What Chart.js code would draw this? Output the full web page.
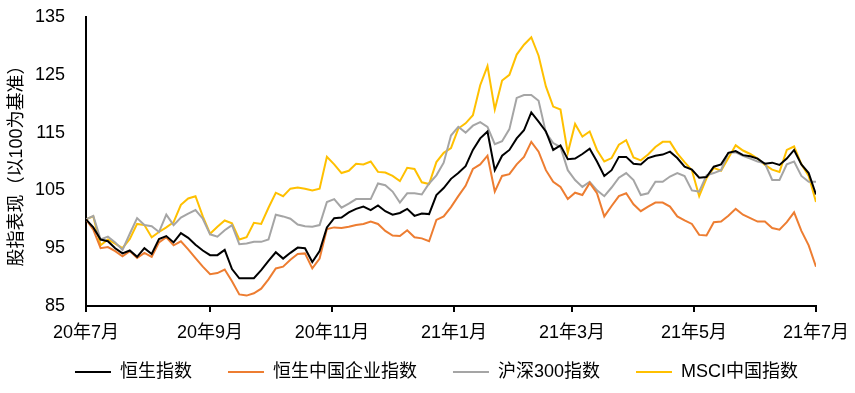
<!DOCTYPE html>
<html>
<head>
<meta charset="utf-8">
<script src="https://cdn.jsdelivr.net/npm/chart.js@4"></script>
<style>
  body { margin: 0; background: #fff; }
  #wrap { width: 855px; height: 393px; }
</style>
</head>
<body>
<div id="wrap"><canvas id="indexChart" width="855" height="393"></canvas></div>
<script>
// series names (legend order)
const seriesNames = ["恒生指数", "恒生中国企业指数", "沪深300指数", "MSCI中国指数"];

// x axis: month labels and their offset in days from 2020-07-01
const monthLabels = ["20年7月", "20年9月", "20年11月", "21年1月", "21年3月", "21年5月", "21年7月"];
const monthDays = [0, 62, 123, 184, 243, 304, 365];

// y axis range
const yMin = 85, yMax = 135, yStep = 10;

// index values, read roughly every 3.65 days from 2020-07-01 to 2021-07-01
const hsi = [
  100, 98.6, 96.5, 96.2, 95, 94.1, 94.6, 93.5, 95, 94, 96.6,
  97.1, 96, 97.6, 96.8, 95.6, 94.6, 93.8, 93.8, 94.7, 91.4,
  89.8, 89.8, 89.8, 91.2, 92.8, 94.3, 93.2, 94.2, 95.1, 95,
  92.6, 94.5, 98.6, 100.2, 100.3, 101.2, 101.8, 102.2, 101.6, 102.4,
  101.4, 100.8, 101.1, 101.8, 100.6, 101, 100.9, 104.2, 105.4, 107,
  108, 109.2, 112, 114, 115.2, 108.5, 111, 112, 114, 115.4,
  118.5, 116.9, 115.2, 112, 112.8, 110.4, 110.5, 111.3, 112.2, 110,
  107.5, 108.5, 110.8, 110.8, 109.6, 109.5, 110.6, 111, 111.2, 111.7,
  110.6, 109.1, 108.6, 107.2, 107.3, 109.1, 109.5, 111.5, 111.8, 111.1,
  110.9, 110.5, 109.6, 109.8, 109.4, 110.5, 112, 109.5, 108, 104.3
];
const hscei = [
  100, 98.2, 95, 95.2, 94.5, 93.6, 94.5, 93.3, 94.2, 93.5, 96,
  96.9, 95.5, 96.2, 94.8, 93.3, 91.8, 90.5, 90.7, 91.3, 89.3,
  87, 86.8, 87.2, 88, 89.6, 91.5, 91.8, 93, 94, 94.1,
  91.5, 93.2, 98.3, 98.6, 98.5, 98.7, 99, 99.2, 99.6, 99.2,
  98, 97.2, 97.1, 98.1, 96.9, 96.7, 96.2, 99.9, 100.5, 102.1,
  104, 105.8, 108.7, 109.5, 111, 104.8, 107.5, 107.8, 109.5, 110.8,
  113.4, 111.7, 108.5, 106.5, 105.6, 103.5, 104.6, 104.2, 106.3, 104.5,
  100.5, 102.3, 104, 104.5, 102.6, 101.4, 102.2, 102.9, 102.9, 102.2,
  100.5, 99.8, 99.2, 97.3, 97.2, 99.5, 99.6, 100.6, 101.8, 100.8,
  100.2, 99.6, 99.6, 98.5, 98.2, 99.5, 101.2, 98, 95.5, 91.8
];
const csi300 = [
  100, 100.6, 96.5, 97, 96, 94.7, 97.5, 100.2, 99, 98.8, 97.8,
  100.8, 99, 100.3, 101, 101.6, 100.1, 97.4, 97, 98.1, 99,
  95.7, 95.8, 96.1, 96.1, 96.5, 100.8, 100.5, 100.1, 99.1, 98.8,
  98.7, 99, 103, 103.5, 102, 102.7, 103.5, 103.5, 103.5, 106.2,
  105.9, 104.8, 102.9, 104.5, 104.5, 104.3, 106.2, 107.6, 109.8, 114.5,
  116, 115, 116.2, 116.8, 116, 113, 113.5, 115.6, 121, 121.5,
  121.5, 120.5, 115, 113.2, 112.5, 108.5, 106.8, 105.6, 106.5, 105,
  104, 105.5, 107.2, 108, 106.8, 104.2, 104.5, 106.5, 106.5, 107.4,
  108, 107.5, 105, 104.8, 107.6, 108, 108.5, 111.5, 111.6, 111,
  110.5, 110, 109.7, 106.8, 106.8, 109.5, 110, 107.5, 106.5, 106.5
];
const msciChina = [
  100, 100.5, 95.5, 96.5, 95.8, 95, 96.6, 99.2, 99, 96.9, 97.8,
  98.6, 99.5, 102.5, 103.6, 104, 100.5, 97.5, 98.7, 99.8, 99.3,
  96.5, 96.9, 99.4, 99.2, 102, 104.6, 104, 105.3, 105.5, 105.3,
  105, 105.3, 110.8, 109.5, 108, 108.4, 109.6, 109.5, 110, 108.2,
  108.1, 107.5, 106.6, 108.9, 108.7, 106.4, 106.1, 109.9, 111.5, 112.3,
  115.7, 116.6, 118, 123.2, 126.5, 119, 124, 125, 128.5, 130.2,
  131.5, 128.3, 123, 119.5, 119, 111.5, 116.5, 114.3, 115.2, 112,
  110, 110.6, 112.9, 113.7, 110.7, 110.2, 111.2, 112.5, 113.4, 113.4,
  111.4, 109.9, 108.5, 104, 107.1, 108.9, 108.4, 110.6, 112.8, 111.9,
  111.3, 110.5, 109.4, 108.6, 108.2, 112, 112.6, 109.5, 107.5, 103
];

const colors = ["#000000", "#ED7D31", "#A5A5A5", "#FFC000"];
const allSeries = [hsi, hscei, csi300, msciChina];

function toPoints(values) {
  const step = monthDays[monthDays.length - 1] / (values.length - 1);
  return values.map((v, i) => ({ x: i * step, y: v }));
}

// the legend row sits a little right of centre in the original
const legendShift = {
  id: "legendShift",
  afterLayout(chart) {
    chart.legend.left += 28;
    chart.legend.right += 28;
  },
};

Chart.defaults.font.family = '"Liberation Sans", "Noto Sans CJK SC", sans-serif';
Chart.defaults.font.size = 18;
Chart.defaults.color = "#000";

const ctx = document.getElementById("indexChart").getContext("2d");

new Chart(ctx, {
  type: "line",
  data: {
    datasets: allSeries.map((s, k) => ({
      label: seriesNames[k],
      data: toPoints(s),
      borderColor: colors[k],
      backgroundColor: colors[k],
      borderWidth: 2,
      pointRadius: 0,
      tension: 0,
    })),
  },
  plugins: [legendShift],
  options: {
    responsive: false,
    animation: false,
    layout: { padding: { top: 17, right: 38, left: 0, bottom: 2 } },
    plugins: {
      tooltip: { enabled: false },
      legend: {
        position: "bottom",
        labels: {
          usePointStyle: true,
          pointStyle: "line",
          pointStyleWidth: 36,
          padding: 36,
          font: { size: 18 },
        },
      },
    },
    scales: {
      x: {
        type: "linear",
        min: 0,
        max: monthDays[monthDays.length - 1],
        afterBuildTicks: (scale) => {
          scale.ticks = monthDays.map((d) => ({ value: d }));
        },
        afterFit: (scale) => {
          // keep the axis box short so the legend sits where it should,
          // and let the month labels draw past the box edge
          scale.height = 21;
          scale._computeLabelArea = () => undefined;
        },
        ticks: {
          autoSkip: false,
          maxRotation: 0,
          padding: 6,
          font: { size: 18, lineHeight: 1.7 },
          callback: (value) => monthLabels[monthDays.indexOf(value)],
        },
        grid: {
          drawOnChartArea: false,
          drawTicks: true,
          tickLength: 6,
          color: "#000",
          lineWidth: 2,
        },
        border: { color: "#000", width: 2 },
      },
      y: {
        min: yMin,
        max: yMax,
        afterFit: (scale) => {
          scale.width = 86;
        },
        ticks: { stepSize: yStep, padding: 0 },
        grid: {
          drawOnChartArea: false,
          drawTicks: true,
          tickLength: 21,
          color: "rgba(0,0,0,0)",
        },
        border: { color: "#000", width: 2 },
        title: {
          display: true,
          text: "股指表现（以100为基准）",
          font: { size: 18 },
          padding: { top: 6, bottom: 0 },
        },
      },
    },
  },
});
</script>
</body>
</html>
